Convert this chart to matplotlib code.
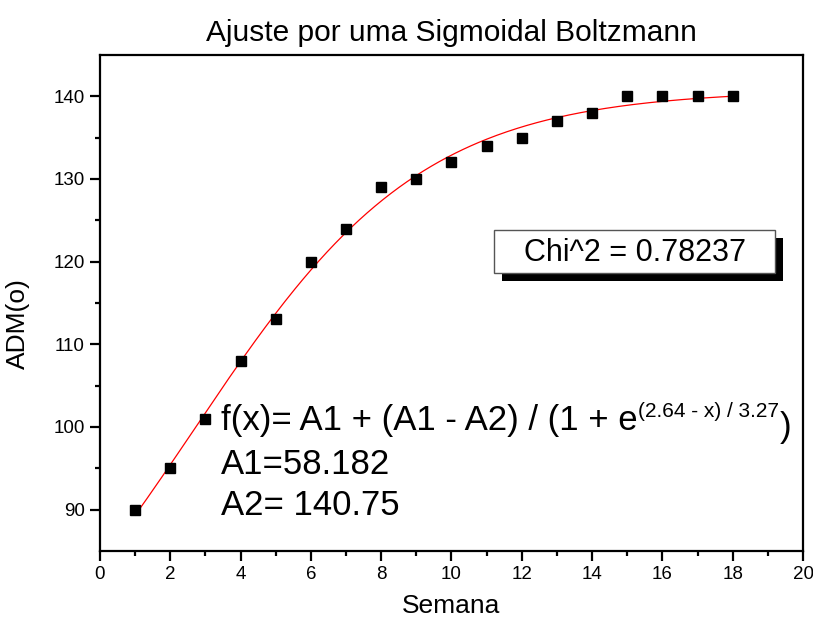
import numpy as np
import matplotlib
matplotlib.use("Agg")
import matplotlib.pyplot as plt
from matplotlib.patches import Rectangle

plt.rcParams['font.family'] = ['Liberation Sans', 'DejaVu Sans']

# dados medidos
semana = [1, 2, 3, 4, 5, 6, 7, 8, 9, 10, 11, 12, 13, 14, 15, 16, 17, 18]
adm = [90, 95, 101, 108, 113, 120, 124, 129, 130, 132, 134, 135, 137, 138, 140, 140, 140, 140]

# parametros do ajuste (do grafico)
A1 = 58.182
A2 = 140.75
x0 = 2.64
dx = 3.27
chi2 = 0.78237

fig = plt.figure(figsize=(8.13, 6.24), dpi=100)
ax = fig.add_axes([0.123, 0.117, 0.8647, 0.795])

xs = np.linspace(min(semana), max(semana), 300)
ys = A2 + (A1 - A2) / (1 + np.exp((xs - x0) / dx))
ax.plot(xs, ys, color='red', lw=0.9, zorder=2)
ax.plot(semana, adm, 's', color='black', ms=7.8, zorder=3)

ax.set_xlim(0, 20)
ax.set_ylim(85, 145)
ax.set_xticks(np.arange(0, 21, 2))
ax.set_xticks(np.arange(1, 20, 2), minor=True)
ax.set_yticks([90, 100, 110, 120, 130, 140])
ax.set_yticks([95, 105, 115, 125, 135], minor=True)
for s in ax.spines.values():
    s.set_linewidth(1.6)
ax.tick_params(which='major', direction='out', length=7, width=1.6, labelsize=13.5,
               pad=4, top=False, right=False)
ax.tick_params(which='minor', direction='out', length=3.5, width=1.6, top=False, right=False)

ax.set_xlabel("Semana", fontsize=19, labelpad=8)
ax.set_ylabel("ADM(o)", fontsize=19)
ax.yaxis.set_label_coords(-0.1, 0.458)
ax.set_title("Ajuste por uma Sigmoidal Boltzmann", fontsize=21.5, pad=10)

# caixa Chi^2 com sombra
ax.add_patch(Rectangle((11.43, 117.6), 8.0, 5.2, facecolor='black',
                       edgecolor='none', zorder=4, clip_on=False))
ax.add_patch(Rectangle((11.21, 118.57), 8.0, 5.2, facecolor='white',
                       edgecolor='#555555', lw=1.0, zorder=5, clip_on=False))
ax.text(15.21, 121.1, "Chi^2 = %.5f" % chi2, fontsize=22, ha='center', va='center', zorder=6)

# texto da equacao
t1 = ax.text(3.44, 99.6, "f(x)= A1 + (A1 - A2) / (1 + e", fontsize=25, va='baseline', zorder=6)
t2 = ax.annotate("(%.2f - x) / %.2f" % (x0, dx), xy=(1, 1), xycoords=t1,
                 xytext=(0.5, 1.5), textcoords='offset points', fontsize=15, va='top', zorder=6)
ax.annotate(")", xy=(1, 0), xycoords=(t2, t1), xytext=(0.5, 0), textcoords='offset points',
            fontsize=25, va='baseline', zorder=6, annotation_clip=False)
ax.text(3.44, 94.36, "A1=%.3f" % A1, fontsize=25, va='baseline', zorder=6)
ax.text(3.44, 89.3, "A2= %.2f" % A2, fontsize=25, va='baseline', zorder=6)

fig.savefig("out.png", dpi=100)
